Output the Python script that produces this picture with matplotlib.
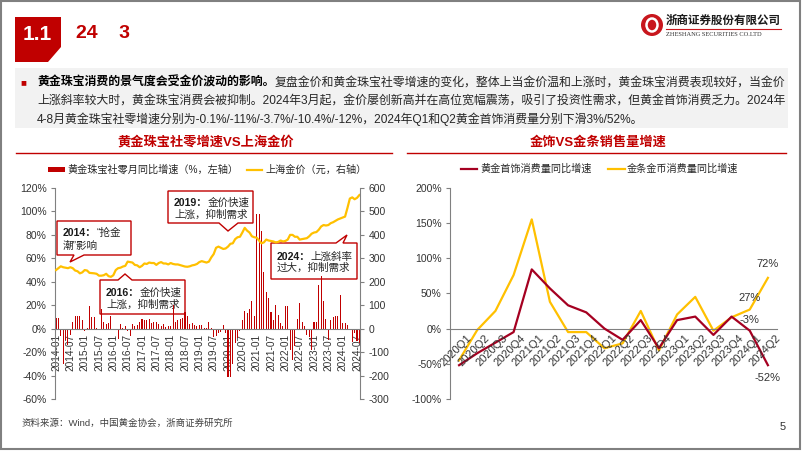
import matplotlib
matplotlib.use('Agg')
import matplotlib.pyplot as plt
from matplotlib.patches import Polygon, Rectangle, Ellipse
from matplotlib.lines import Line2D
from matplotlib.transforms import ScaledTranslation
import numpy as np

plt.rcParams['font.family'] = ['Liberation Sans', 'Noto Sans CJK SC']
plt.rcParams['axes.unicode_minus'] = False

W, H = 802, 451
RED = '#c00000'
GOLD = '#ffc000'
DARKRED = '#a50021'
GRAY = '#808080'
TXT = '#262626'

# ---- data: left chart (monthly, 2014-01 .. 2024-08)
month_labels = [f'{y}-{m:02d}' for y in range(2014, 2025) for m in range(1, 13)][:128]

retail_yoy = [
    9, 9, -6, -30, -10, -14, -5, 6, 11, 11, 11, 7,           # 2014
    -2, 0.5, 19, 10, 10, 0.5, -1, 17, 6, 4, 5, 11,           # 2015
    -1, -1, -9, 4, 0.5, 2, -2, -6, 4, 2, 3, 6,               # 2016
    8, 7, 7, 8, 5, 6, 6, 4, 2, 4, 1, 2,                      # 2017
    2, 20, 6, 7, 8, 9, 14, 11, 4, 5, 3, 2,                   # 2018
    3, 3, 0.3, 0.4, 6, 0.5, -7, -6, -4, -3, 3, -4,           # 2019
    -41, -41, -30, -12, -8, -2, 7, 15, 13, 17, 24, 11,       # 2020
    98, 98, 83, 48, 31, 26, 14, 7, 20, 12, 5, 2,             # 2021
    19, 19, -18, -27, -15, 8, 22, 6, 2, -5, -7, -18,         # 2022
    6, 6, 37, 45, 24, 8, -10, 7, 10, 11, 11, 29,             # 2023
    5, 5, 3, -0.1, -11, -3.7, -10.4, -12,                    # 2024
]

sh_gold = [
    250, 258, 266, 262, 260, 258, 262, 258, 248, 245, 236, 240,
    250, 248, 238, 237, 236, 234, 226, 226, 228, 234, 224, 221,
    228, 250, 258, 260, 265, 268, 286, 284, 282, 272, 270, 262,
    268, 278, 276, 282, 280, 280, 272, 280, 284, 278, 278, 274,
    280, 276, 274, 274, 271, 268, 265, 264, 266, 270, 272, 276,
    284, 288, 285, 282, 286, 304, 318, 345, 350, 345, 340, 342,
    350, 362, 364, 382, 390, 392, 410, 430, 418, 410, 394, 390,
    388, 376, 364, 368, 380, 376, 374, 372, 368, 370, 376, 372,
    374, 380, 400, 400, 392, 392, 380, 382, 384, 386, 394, 405,
    410, 412, 422, 436, 442, 440, 442, 450, 454, 460, 466, 470,
    474, 478, 515, 555, 560, 552, 558, 570,
]

# ---- data: right chart (quarterly)
quarters = ['2020Q1', '2020Q2', '2020Q3', '2020Q4', '2021Q1', '2021Q2', '2021Q3', '2021Q4',
            '2022Q1', '2022Q2', '2022Q3', '2022Q4', '2023Q1', '2023Q2', '2023Q3', '2023Q4',
            '2024Q1', '2024Q2']
jewelry = [-52, -35, -20, -5, 84, 57, 33, 23, 0, -16, 12, -28, 12, 17, -9, 17, -3, -52]
barcoin = [-45, -2, 25, 76, 155, 38, -5, -5, -28, -21, 25, -31, 20, 45, -3, 16, 27, 72]

fig = plt.figure(figsize=(8.02, 4.51), dpi=100)
renderer = fig.canvas.get_renderer()


def fx(x):
    return x / W


def fy(y):
    return 1 - y / H


def rich(x, y, parts, size, target=None, zorder=3):
    tgt = fig if target is None else target
    for s, wt, col in parts:
        t = tgt.text(fx(x), fy(y), s, fontsize=size, fontweight=wt, color=col,
                     ha='left', va='center', transform=fig.transFigure,
                     zorder=zorder, clip_on=False)
        x += t.get_window_extent(renderer).width


def poly(pts, ax=None, **kw):
    p = Polygon([(fx(a), fy(b)) for a, b in pts], closed=True,
                transform=fig.transFigure, clip_on=False, **kw)
    if ax is None:
        fig.patches.append(p)
    else:
        ax.add_patch(p)


# ---- frame, header
fig.patches.append(Rectangle((fx(1), fy(449)), fx(799), 448 / H, transform=fig.transFigure,
                             facecolor='none', edgecolor=GRAY, lw=1.5))
poly([(15, 17), (61, 17), (61, 47), (48, 62), (15, 62)], facecolor=RED, edgecolor='none')
fig.text(fx(37), fy(35), '1.1', color='white', fontsize=15, fontweight='bold',
         ha='center', va='center')
fig.text(fx(76), fy(33), '24    3', color=RED, fontsize=14, fontweight='bold',
         ha='left', va='center')

# logo
fig.patches.append(Ellipse((fx(652), fy(25)), 22 / W, 22 / H, transform=fig.transFigure,
                           facecolor='#c8161d', edgecolor='none'))
fig.patches.append(Ellipse((fx(652), fy(25)), 11 / W, 13 / H, transform=fig.transFigure,
                           facecolor='none', edgecolor='white', lw=1.8))
fig.text(fx(666), fy(21), '浙商证券股份有限公司', fontsize=8.3, fontweight='bold',
         color='#1a1a1a', ha='left', va='center')
fig.lines.append(Line2D([fx(666), fx(781)], [fy(29), fy(29)], transform=fig.transFigure,
                        color='#c8161d', lw=0.8))
fig.text(fx(666), fy(34), 'ZHESHANG SECURITIES CO.LTD', fontsize=4.6, color='#333333',
         ha='left', va='center', family='Liberation Serif')

# ---- summary text box
fig.patches.append(Rectangle((fx(15), fy(128)), 773 / W, 60 / H, transform=fig.transFigure,
                             facecolor='#f2f2f2', edgecolor='none'))
fig.text(fx(20), fy(82.5), '■', color=RED, fontsize=7, ha='left', va='center')
rich(37, 82.5, [('黄金珠宝消费的景气度会受金价波动的影响。', 'bold', '#000000'),
                ('复盘金价和黄金珠宝社零增速的变化，整体上当金价温和上涨时，黄金珠宝消费表现较好，当金价',
                 'normal', TXT)], 8.6)
rich(37, 101, [('上涨斜率较大时，黄金珠宝消费会被抑制。2024年3月起，金价屡创新高并在高位宽幅震荡，'
                '吸引了投资性需求，但黄金首饰消费乏力。2024年', 'normal', TXT)], 8.6)
rich(37, 119.5, [('4-8月黄金珠宝社零增速分别为-0.1%/-11%/-3.7%/-10.4%/-12%，'
                  '2024年Q1和Q2黄金首饰消费量分别下滑3%/52%。', 'normal', TXT)], 8.6)

# ---- chart titles
fig.text(fx(206), fy(142.5), '黄金珠宝社零增速VS上海金价', color=RED, fontsize=9.5,
         fontweight='bold', ha='center', va='center')
fig.text(fx(598), fy(142.5), '金饰VS金条销售量增速', color=RED, fontsize=9.5,
         fontweight='bold', ha='center', va='center')
for a, b in [(16, 392), (407, 786)]:
    fig.lines.append(Line2D([fx(a), fx(b)], [fy(153.3), fy(153.3)], transform=fig.transFigure,
                            color=RED, lw=1))

# ---- left chart
ax1 = fig.add_axes([fx(55), fy(399), 305 / W, 211 / H])
x = np.arange(len(retail_yoy))
ax1.bar(x, retail_yoy, width=0.45, color=RED, zorder=2)
ax1.set_xlim(-0.42, 127.25)
ax1.set_ylim(-60, 120)
ax1.set_yticks(range(-60, 121, 20))
ax1.set_yticklabels([f'{v}%' for v in range(-60, 121, 20)])
ax1.set_xticks(x[::6])
ax1.set_xticklabels(month_labels[::6])
ax1.tick_params(axis='x', length=0, labelrotation=90, labelsize=7.3, pad=4, labelcolor='#333333')
ax1.tick_params(axis='y', direction='out', length=3, color=GRAY, labelsize=7.5,
                labelcolor='#333333', pad=3)
ax1.spines['top'].set_visible(False)
ax1.spines['right'].set_visible(False)
ax1.spines['bottom'].set_position(('data', 0))
for s in ['left', 'bottom']:
    ax1.spines[s].set_color(GRAY)
    ax1.spines[s].set_linewidth(0.8)
ax1.patch.set_visible(False)

ax2 = ax1.twinx()
ax2.plot(x, sh_gold, color=GOLD, lw=1.6)
ax2.set_ylim(-300, 600)
ax2.set_yticks(range(-300, 601, 100))
ax2.tick_params(axis='y', direction='out', length=3, color=GRAY, labelsize=7.5,
                labelcolor='#333333', pad=3)
for s in ['left', 'top', 'bottom']:
    ax2.spines[s].set_visible(False)
ax2.spines['right'].set_color(GRAY)
ax2.spines['right'].set_linewidth(0.8)

# callout boxes (behind bars)
box_kw = dict(facecolor='white', edgecolor=RED, lw=1, zorder=1)
poly([(57, 221), (131, 221), (131, 255), (84, 255), (70, 262), (74, 255), (57, 255)], ax1, **box_kw)
rich(63, 233, [('2014：', 'bold', '#1a1a1a'), ('“抢金', 'normal', TXT)], 7.6, ax1, 1.5)
rich(63, 246, [('潮”影响', 'normal', TXT)], 7.6, ax1, 1.5)

poly([(100, 280), (118, 280), (125, 274), (132, 280), (185, 280), (185, 314), (100, 314)], ax1, **box_kw)
rich(106, 292.5, [('2016：', 'bold', '#1a1a1a'), ('金价快速', 'normal', TXT)], 7.6, ax1, 1.5)
rich(106, 305, [('上涨，抑制需求', 'normal', TXT)], 7.6, ax1, 1.5)

poly([(168, 191), (253, 191), (253, 223), (238, 223), (228, 231), (219, 223), (168, 223)], ax1, **box_kw)
rich(174, 202.5, [('2019：', 'bold', '#1a1a1a'), ('金价快速', 'normal', TXT)], 7.6, ax1, 1.5)
rich(174, 214.5, [('上涨，抑制需求', 'normal', TXT)], 7.6, ax1, 1.5)

poly([(271, 243), (336, 243), (347, 235), (343, 243), (357, 243), (357, 279), (271, 279)], ax1, **box_kw)
rich(277, 256.5, [('2024：', 'bold', '#1a1a1a'), ('上涨斜率', 'normal', TXT)], 7.6, ax1, 1.5)
rich(277, 268, [('过大，抑制需求', 'normal', TXT)], 7.6, ax1, 1.5)

# left legend
fig.patches.append(Rectangle((fx(48), fy(171.5)), 17 / W, 4 / H, transform=fig.transFigure,
                             facecolor=RED, edgecolor='none'))
fig.text(fx(67), fy(169.5), '黄金珠宝社零月同比增速（%，左轴）', fontsize=7.3, color=TXT,
         ha='left', va='center')
fig.lines.append(Line2D([fx(247), fx(262)], [fy(169.5), fy(169.5)], transform=fig.transFigure,
                        color=GOLD, lw=1.6))
fig.text(fx(265), fy(169.5), '上海金价（元，右轴）', fontsize=7.3, color=TXT,
         ha='left', va='center')

# ---- right chart
ax3 = fig.add_axes([fx(450), fy(399), 327 / W, 211.3 / H])
q = np.arange(len(quarters))
ax3.plot(q, jewelry, color=DARKRED, lw=1.6, zorder=3)
ax3.plot(q, barcoin, color=GOLD, lw=1.6, zorder=2)
ax3.set_xlim(-0.5, len(quarters) - 0.5)
ax3.set_ylim(-100, 200)
ax3.set_yticks(range(-100, 201, 50))
ax3.set_yticklabels([f'{v}%' for v in range(-100, 201, 50)])
ax3.set_xticks(q)
ax3.set_xticklabels([])
ax3.tick_params(axis='x', length=0)
ax3.tick_params(axis='y', direction='out', length=3, color=GRAY, labelsize=7.5,
                labelcolor='#333333', pad=3)
# rotated quarter labels hanging just below the zero line
off = ScaledTranslation(7 / 100, -4 / 100, fig.dpi_scale_trans)
for i, lab in enumerate(quarters):
    ax3.text(i, 0, lab, transform=ax3.transData + off, rotation=45, ha='right', va='top',
             rotation_mode='anchor', fontsize=8, color='#333333', clip_on=False)
ax3.spines['top'].set_visible(False)
ax3.spines['right'].set_visible(False)
ax3.spines['bottom'].set_position(('data', 0))
for s in ['left', 'bottom']:
    ax3.spines[s].set_color(GRAY)
    ax3.spines[s].set_linewidth(0.8)
ax3.patch.set_visible(False)

n = len(quarters) - 1
ax3.annotate(f'{barcoin[n]}%', (n, barcoin[n]), xytext=(0, 10), textcoords='offset points',
             ha='center', va='center', fontsize=8, color='#333333')
ax3.annotate(f'{barcoin[n - 1]}%', (n - 1, barcoin[n - 1]), xytext=(0, 8), textcoords='offset points',
             ha='center', va='center', fontsize=8, color='#333333')
ax3.annotate(f'{jewelry[n - 1]}%', (n - 1, jewelry[n - 1]), xytext=(0, 7.5), textcoords='offset points',
             ha='center', va='center', fontsize=8, color='#333333')
ax3.annotate(f'{jewelry[n]}%', (n, jewelry[n]), xytext=(0, -9), textcoords='offset points',
             ha='center', va='center', fontsize=8, color='#333333')

# right legend
fig.lines.append(Line2D([fx(461), fx(477)], [fy(169), fy(169)], transform=fig.transFigure,
                        color=DARKRED, lw=1.6))
fig.text(fx(480), fy(169), '黄金首饰消费量同比增速', fontsize=7.3, color=TXT, ha='left', va='center')
fig.lines.append(Line2D([fx(608), fx(625)], [fy(169), fy(169)], transform=fig.transFigure,
                        color=GOLD, lw=1.6))
fig.text(fx(627), fy(169), '金条金币消费量同比增速', fontsize=7.3, color=TXT, ha='left', va='center')

# ---- footer
fig.text(fx(22), fy(423), '资料来源：Wind，中国黄金协会，浙商证券研究所', fontsize=6.8,
         color='#404040', ha='left', va='center')
fig.text(fx(783), fy(427), '5', fontsize=8, color='#333333', ha='center', va='center')

fig.savefig('out.png', dpi=100)
